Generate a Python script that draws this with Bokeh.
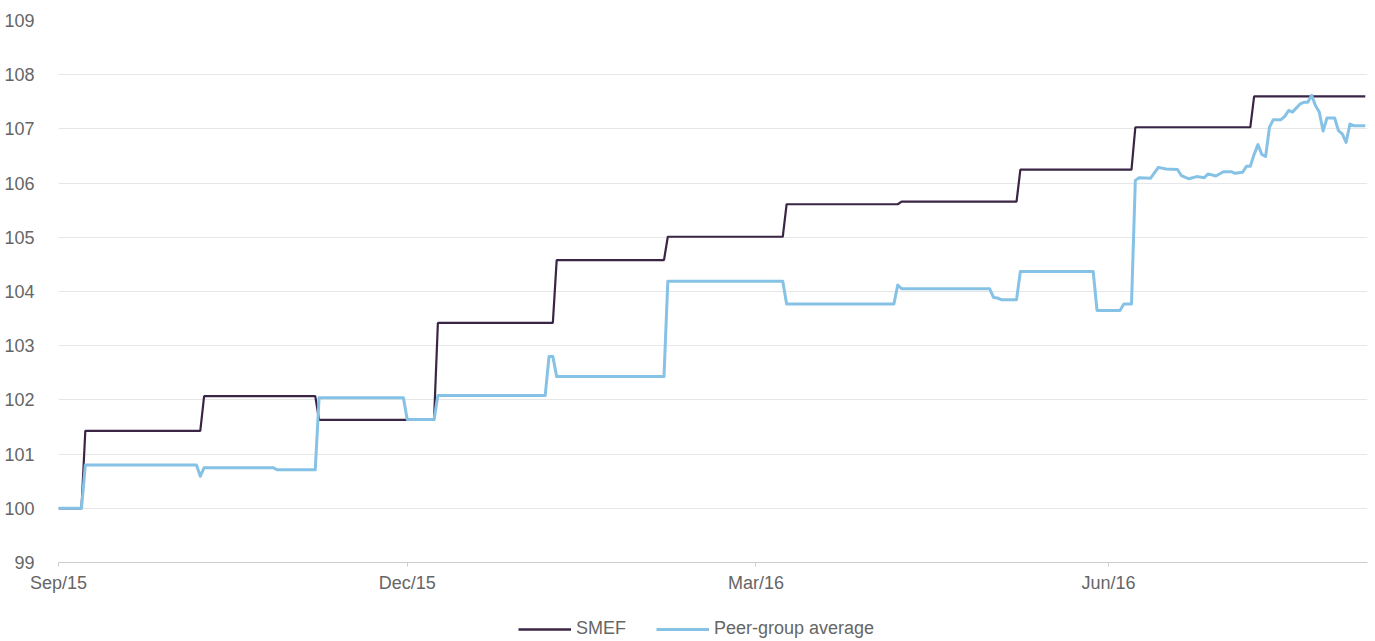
import pandas as pd
from bokeh.plotting import figure
from bokeh.layouts import column
from bokeh.models import (Range1d, FixedTicker, DatetimeTickFormatter, Legend,
                          LegendItem, ColumnDataSource)
from bokeh.embed import file_html
from bokeh.resources import INLINE

# ---- data ----
smef_dates = ["2015-09-01", "2015-09-07", "2015-09-08", "2015-10-08", "2015-10-09",
              "2015-11-07", "2015-11-08", "2015-12-08", "2015-12-09", "2016-01-08",
              "2016-01-09", "2016-02-06", "2016-02-07", "2016-03-08", "2016-03-09",
              "2016-04-07", "2016-04-08", "2016-05-08", "2016-05-09", "2016-06-07",
              "2016-06-08", "2016-07-08", "2016-07-09", "2016-08-07"]
smef_values = [100.0, 100.0, 101.43, 101.43, 102.07,
               102.07, 101.63, 101.63, 103.42, 103.42,
               104.58, 104.58, 105.01, 105.01, 105.61,
               105.61, 105.66, 105.66, 106.25, 106.25,
               107.03, 107.03, 107.6, 107.6]

peer_dates = ["2015-09-01", "2015-09-07", "2015-09-08", "2015-10-07", "2015-10-08",
              "2015-10-09", "2015-10-27", "2015-10-28", "2015-11-07", "2015-11-08",
              "2015-11-30", "2015-12-01", "2015-12-08", "2015-12-09", "2016-01-06",
              "2016-01-07", "2016-01-08", "2016-01-09", "2016-02-06", "2016-02-07",
              "2016-03-08", "2016-03-09", "2016-04-06", "2016-04-07", "2016-04-08",
              "2016-05-01", "2016-05-02", "2016-05-03", "2016-05-04", "2016-05-08",
              "2016-05-09", "2016-05-28", "2016-05-29", "2016-06-04", "2016-06-05",
              "2016-06-07", "2016-06-08", "2016-06-09", "2016-06-12", "2016-06-14",
              "2016-06-16", "2016-06-19", "2016-06-20", "2016-06-22", "2016-06-24",
              "2016-06-26", "2016-06-27", "2016-06-29", "2016-07-01", "2016-07-03",
              "2016-07-04", "2016-07-06", "2016-07-07", "2016-07-08", "2016-07-09",
              "2016-07-10", "2016-07-11", "2016-07-12", "2016-07-13", "2016-07-14",
              "2016-07-16", "2016-07-17", "2016-07-18", "2016-07-19", "2016-07-21",
              "2016-07-22", "2016-07-23", "2016-07-24", "2016-07-25", "2016-07-26",
              "2016-07-27", "2016-07-28", "2016-07-30", "2016-07-31", "2016-08-01",
              "2016-08-02", "2016-08-03", "2016-08-04", "2016-08-07"]
peer_values = [100.0, 100.0, 100.80, 100.80, 100.59,
               100.75, 100.75, 100.71, 100.71, 102.04,
               102.04, 101.64, 101.64, 102.08, 102.08,
               102.80, 102.80, 102.43, 102.43, 104.19,
               104.19, 103.77, 103.77, 104.12, 104.05,
               104.05, 103.89, 103.88, 103.85, 103.85,
               104.37, 104.37, 103.65, 103.65, 103.77,
               103.77, 106.05, 106.10, 106.09, 106.29,
               106.26, 106.25, 106.14, 106.08, 106.12,
               106.10, 106.17, 106.13, 106.21, 106.21,
               106.18, 106.20, 106.31, 106.31, 106.53,
               106.71, 106.53, 106.49, 107.03, 107.17,
               107.17, 107.23, 107.34, 107.31, 107.46,
               107.49, 107.49, 107.62, 107.43, 107.31,
               106.96, 107.20, 107.20, 106.97, 106.91,
               106.75, 107.09, 107.06, 107.06]

tick_dates = ["2015-09-01", "2015-12-01", "2016-03-01", "2016-06-01"]
y_ticks = list(range(99, 110))
series_names = ["SMEF", "Peer-group average"]

# ---- styles ----
FONT = "Liberation Sans"
TEXT = "#666666"
SMEF_COLOR = "#3b2545"
PEER_COLOR = "#85c2e6"

x_start = pd.Timestamp("2015-09-01")
x_end = pd.Timestamp("2016-08-07 14:00")

# ---- main chart ----
p = figure(frame_width=1309, frame_height=542, x_axis_type="datetime",
           x_range=Range1d(x_start, x_end), y_range=Range1d(99, 109),
           output_backend="svg", toolbar_location=None,
           min_border_left=58, min_border_right=8, min_border_top=20,
           min_border_bottom=38)
p.outline_line_color = None
p.background_fill_color = "white"

smef_src = ColumnDataSource(dict(x=pd.to_datetime(smef_dates), y=smef_values))
peer_src = ColumnDataSource(dict(x=pd.to_datetime(peer_dates), y=peer_values))

p.line("x", "y", source=smef_src, line_color=SMEF_COLOR, line_width=2.2)
p.line("x", "y", source=peer_src, line_color=PEER_COLOR, line_width=3,
       line_join="round")

p.xaxis.ticker = FixedTicker(ticks=[pd.Timestamp(d).value // 10**6 for d in tick_dates])
p.xaxis.formatter = DatetimeTickFormatter(months="%b/%y", days="%b/%y")
p.xaxis.axis_line_color = "#cccccc"
p.xaxis.major_tick_line_color = "#cccccc"
p.xaxis.major_tick_out = 4
p.xaxis.major_tick_in = 0
p.xaxis.minor_tick_line_color = None
p.xaxis.major_label_standoff = 6
p.xaxis.major_label_text_font = FONT
p.xaxis.major_label_text_font_size = "18px"
p.xaxis.major_label_text_color = TEXT

p.yaxis.ticker = FixedTicker(ticks=y_ticks)
p.yaxis.axis_line_color = None
p.yaxis.major_tick_line_color = None
p.yaxis.minor_tick_line_color = None
p.yaxis.major_label_standoff = 18
p.yaxis.major_label_text_font = FONT
p.yaxis.major_label_text_font_size = "18px"
p.yaxis.major_label_text_color = TEXT

p.xgrid.grid_line_color = None
p.ygrid.grid_line_color = "#e6e6e6"
p.ygrid.grid_line_width = 1

# ---- legend strip (its key lines sit outside the visible range) ----
lg = figure(width=1375, height=41, x_range=Range1d(0, 1375), y_range=Range1d(0, 41),
            output_backend="svg", toolbar_location=None,
            x_axis_location=None, y_axis_location=None,
            min_border_left=0, min_border_right=0, min_border_top=0,
            min_border_bottom=0)
lg.outline_line_color = None
lg.xgrid.grid_line_color = None
lg.ygrid.grid_line_color = None
l1 = lg.line(x=[-100, -90], y=[-100, -100], line_color=SMEF_COLOR, line_width=2.6)
l2 = lg.line(x=[-100, -90], y=[-100, -100], line_color=PEER_COLOR, line_width=3.2)

legend = Legend(items=[LegendItem(label=series_names[0], renderers=[l1]),
                       LegendItem(label=series_names[1], renderers=[l2])],
                orientation="horizontal", location=(460, 2),
                border_line_color=None, background_fill_alpha=0,
                label_text_font=FONT, label_text_font_size="18px",
                label_text_color=TEXT, glyph_width=53, glyph_height=20,
                label_height=20, spacing=30, padding=0, margin=0,
                label_standoff=5)
lg.add_layout(legend)

layout = column(p, lg, spacing=0)
open("out.html", "w").write(file_html(layout, INLINE))
